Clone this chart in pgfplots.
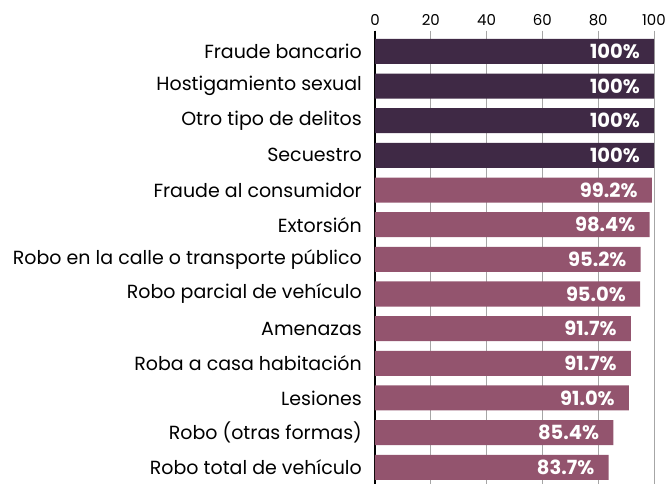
\documentclass[border=0pt]{standalone}
\usepackage{pgfplots}
\pgfplotsset{compat=1.18}
\usepackage{pgfplotstable}
\usepackage{fontspec}
\setmainfont{Poppins}
\definecolor{darkp}{HTML}{3F2945}
\definecolor{mauve}{HTML}{93546E}
\pgfplotstableread[col sep=comma]{
v,y,lab
100,0,100\%
100,1,100\%
100,2,100\%
100,3,100\%
}\dark
\pgfplotstableread[col sep=comma]{
v,y,lab
99.2,4,99.2\%
98.4,5,98.4\%
95.2,6,95.2\%
95.0,7,95.0\%
91.7,8,91.7\%
91.7,9,91.7\%
91.0,10,91.0\%
85.4,11,85.4\%
83.7,12,83.7\%
}\light
\begin{document}
\begin{tikzpicture}
\useasboundingbox (-375pt,1.6pt) rectangle (293pt,484.6pt);
\begin{axis}[
  at={(0,0)}, anchor=south west,
  scale only axis,
  width=279pt, height=454pt,
  xmin=0, xmax=100,
  ymin=-0.6, ymax=12.5,
  y dir=reverse,
  axis x line*=top,
  x axis line style={draw=none},
  axis y line*=left,
  y axis line style={black, line width=1.8pt, -},
  xtick={0,20,40,60,80,100},
  /pgf/number format/assume math mode=true,
  xticklabel style={font=\fontsize{15}{17}\selectfont, inner sep=0pt, yshift=5pt},
  ytick={0,...,12},
  yticklabels={Fraude bancario,Hostigamiento sexual,Otro tipo de delitos,Secuestro,Fraude al consumidor,Extorsión,Robo en la calle o transporte público,Robo parcial de vehículo,Amenazas,Roba a casa habitación,Lesiones,Robo (otras formas),Robo total de vehículo},
  yticklabel style={font=\fontsize{19}{22}\selectfont, inner sep=0pt, xshift=-13pt},
  major tick length=0pt,
  xmajorgrids,
  grid style={gray!70, line width=0.7pt},
  xbar, bar width=25pt, bar shift=0pt,
  point meta=explicit symbolic,
  nodes near coords,
  every node near coord/.append style={anchor=east, inner sep=0pt, xshift=-14pt, white, font=\fontsize{19.5}{22}\selectfont\bfseries},
  clip=false,
]
\addplot[fill=darkp, draw=none] table[x=v, y=y, meta=lab] {\dark};
\addplot[fill=mauve, draw=none] table[x=v, y=y, meta=lab] {\light};
\end{axis}
\end{tikzpicture}
\end{document}
